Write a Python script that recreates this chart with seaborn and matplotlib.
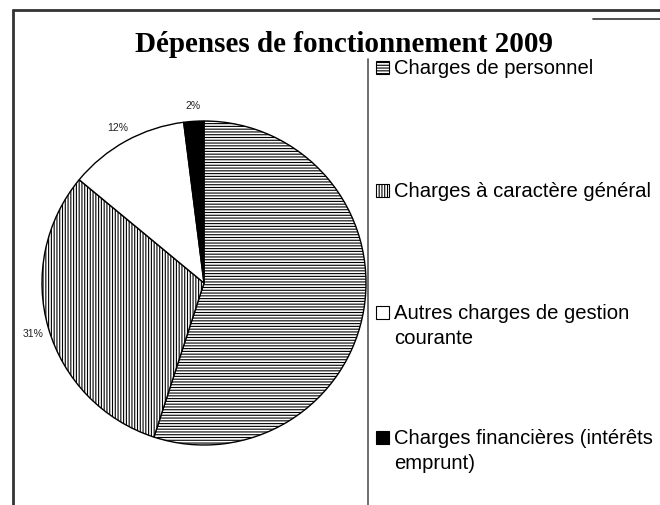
import matplotlib
matplotlib.use("Agg")
import matplotlib.pyplot as plt
from matplotlib.lines import Line2D
from matplotlib.patches import Patch, Rectangle
from matplotlib.legend_handler import HandlerPatch
import seaborn as sns

# data
categories = ["Charges de personnel",
              "Charges à caractère général",
              "Autres charges de gestion\ncourante",
              "Charges financières (intérêts\nemprunt)"]
values = [55, 31, 12, 2]
show_pct = [False, True, True, True]

# styling per slice
fills = ["white", "white", "white", "black"]
hatches = ["------", "||||||", "", ""]

W, H = 660, 506

sns.set_theme(style="white")
plt.rcParams["font.family"] = ["Liberation Sans", "DejaVu Sans"]
plt.rcParams["text.color"] = "black"
plt.rcParams["hatch.linewidth"] = 0.8
plt.rcParams["hatch.color"] = "black"


def fx(x):
    return x / W


def fy(y):
    return 1 - y / H


def low_square(legend, orig_handle, xdescent, ydescent, width, height, fontsize):
    # small square sitting in the lower part of the handle box
    side = 0.65 * fontsize
    return Rectangle((-xdescent, -ydescent), width, side)


fig = plt.figure(figsize=(W / 100, H / 100), dpi=100)
fig.patch.set_facecolor("white")

# pie axes: centre (204, 284) px, radius 162 px
ax = fig.add_axes([fx(42), fy(284 + 162), 324 / W, 324 / H])

total = sum(values)
pct_labels = [f"{v / total * 100:.0f}%" if s else "" for v, s in zip(values, show_pct)]

wedges, texts = ax.pie(values, labels=pct_labels, colors=fills,
                       startangle=90, counterclock=False,
                       labeldistance=1.1, radius=1,
                       wedgeprops=dict(edgecolor="black", linewidth=1),
                       textprops=dict(fontsize=7.5, color="#222222"))
for w, h in zip(wedges, hatches):
    w.set_hatch(h)
for t in texts:
    t.set_ha("center")
    t.set_va("center")
ax.set_xlim(-1, 1)
ax.set_ylim(-1, 1)
ax.set_aspect("equal")
ax.axis("off")

# title
fig.text(fx(344), fy(45), "Dépenses de fonctionnement 2009",
         ha="center", va="center", fontsize=21, fontweight="bold",
         family=["Liberation Serif", "DejaVu Serif"])

# legend, one entry per row (top of each entry)
legend_tops = [59, 182, 304, 429]
for lab, fc, ht, y in zip(categories, fills, hatches, legend_tops):
    handle = Patch(facecolor=fc, edgecolor="black", hatch=ht, linewidth=0.8)
    leg = fig.legend(handles=[handle], labels=[lab], loc="upper left",
                     bbox_to_anchor=(fx(376), fy(y)), frameon=False,
                     fontsize=14.6, borderpad=0, borderaxespad=0,
                     handlelength=0.65, handleheight=0.82, handletextpad=0.25,
                     labelcolor="black",
                     handler_map={Patch: HandlerPatch(patch_func=low_square)})
    for t in leg.get_texts():
        t.set_linespacing(1.42)
    # marker next to the first line, like Excel does
    for col in leg._legend_handle_box.get_children():
        for item in col.get_children():
            item.align = "top"

# frame lines of the chart area
fig.add_artist(Line2D([fx(13), fx(660)], [fy(11), fy(11)], color="#333333", lw=2))
fig.add_artist(Line2D([fx(13), fx(13)], [fy(11), fy(506)], color="#333333", lw=2))
fig.add_artist(Line2D([fx(593), fx(660)], [fy(20), fy(20)], color="#333333", lw=1.2))
fig.add_artist(Line2D([fx(368), fx(368)], [fy(60), fy(506)], color="#555555", lw=1.2))

fig.savefig("out.png", dpi=100)
